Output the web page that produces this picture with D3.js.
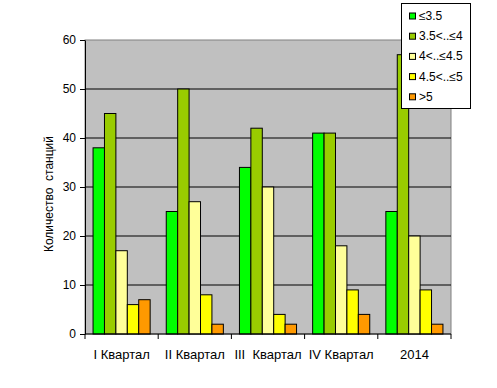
<!doctype html>
<html lang="ru">
<head>
<meta charset="utf-8">
<title>Количество станций</title>
<script src="https://cdnjs.cloudflare.com/ajax/libs/d3/7.8.5/d3.min.js"></script>
<style>
  body { margin: 0; background: #fff; }
  text { font-family: "Liberation Sans", Arial, sans-serif; fill: #000; }
</style>
</head>
<body>
<div id="chart"></div>
<script>
// categories and series
var quarters = ["I Квартал", "II Квартал", "III  Квартал", "IV Квартал", "2014"];
var seriesNames = ["≤3.5", "3.5<..≤4", "4<..≤4.5", "4.5<..≤5", ">5"];
var seriesColors = ["#00ff00", "#99cc00", "#ffff99", "#ffff00", "#ff9900"];
var s1 = [38, 25, 34, 41, 25];
var s2 = [45, 50, 42, 41, 57];
var s3 = [17, 27, 30, 18, 20];
var s4 = [6, 8, 4, 9, 9];
var s5 = [7, 2, 2, 4, 2];
var yTicks = [0, 10, 20, 30, 40, 50, 60];

var series = [s1, s2, s3, s4, s5];

var W = 497, H = 388;
var plotL = 85, plotR = 451, plotT = 40, plotB = 334;

var svg = d3.select("#chart").append("svg")
    .attr("width", W)
    .attr("height", H);

var x0 = d3.scaleBand()
  .domain(quarters)
  .range([plotL, plotR])
  .paddingInner(0.22)
  .paddingOuter(0.11);

var x1 = d3.scaleBand()
  .domain(d3.range(series.length))
  .range([0, x0.bandwidth()]);

var y = d3.scaleLinear()
  .domain([0, 60])
  .range([plotB, plotT]);

// plot area
svg.append("rect")
  .attr("x", plotL).attr("y", plotT)
  .attr("width", plotR - plotL).attr("height", plotB - plotT)
  .attr("fill", "#c0c0c0")
  .attr("stroke", "#808080");

// gridlines
svg.selectAll(".grid")
  .data(yTicks.filter(function(d) { return d > 0 && d < 60; }))
  .enter().append("line")
    .attr("x1", plotL).attr("x2", plotR)
    .attr("y1", function(d) { return y(d); })
    .attr("y2", function(d) { return y(d); })
    .attr("stroke", "#000");

// bars
quarters.forEach(function(q, qi) {
  series.forEach(function(s, si) {
    svg.append("rect")
      .attr("x", x0(q) + x1(si))
      .attr("y", y(s[qi]))
      .attr("width", x1.bandwidth())
      .attr("height", plotB - y(s[qi]))
      .attr("fill", seriesColors[si])
      .attr("stroke", "#000")
      .attr("stroke-width", 1);
  });
});

// Y axis
var yAxis = svg.append("g")
  .attr("transform", "translate(" + plotL + ",0)")
  .call(d3.axisLeft(y).tickValues(yTicks).tickSize(5).tickPadding(4).tickSizeOuter(0));
yAxis.selectAll("text").style("font-size", "12px").style("font-family", "Liberation Sans, Arial, sans-serif").attr("fill", "#000");
yAxis.selectAll("line, path").attr("stroke", "#000");

// X axis with separators at group boundaries
svg.append("line")
  .attr("x1", plotL).attr("x2", plotR)
  .attr("y1", plotB).attr("y2", plotB)
  .attr("stroke", "#000");
var step = x0.step();
svg.selectAll(".xtick")
  .data(d3.range(quarters.length + 1))
  .enter().append("line")
    .attr("x1", function(i) { return plotL + i * step; })
    .attr("x2", function(i) { return plotL + i * step; })
    .attr("y1", plotB).attr("y2", plotB + 5)
    .attr("stroke", "#000");
svg.selectAll(".xlab")
  .data(quarters)
  .enter().append("text")
    .attr("x", function(d) { return x0(d) + x0.bandwidth() / 2; })
    .attr("y", 359)
    .attr("text-anchor", "middle")
    .style("font-size", "13px")
    .style("white-space", "pre")
    .text(function(d) { return d; });

// Y label
svg.append("text")
  .attr("transform", "translate(53,194) rotate(-90)")
  .attr("text-anchor", "middle")
  .style("font-size", "12px")
  .style("white-space", "pre")
  .text("Количество  станций");

// legend
var lg = svg.append("g");
lg.append("rect")
  .attr("x", 401.5).attr("y", 3.5)
  .attr("width", 69).attr("height", 105)
  .attr("fill", "#fff")
  .attr("stroke", "#000");
seriesNames.forEach(function(name, i) {
  var cy = 16 + i * 20.2;
  lg.append("rect")
    .attr("x", 409.5).attr("y", cy - 3)
    .attr("width", 6).attr("height", 6)
    .attr("fill", seriesColors[i])
    .attr("stroke", "#000");
  lg.append("text")
    .attr("x", 419).attr("y", cy + 4)
    .style("font-size", "12px")
    .text(name);
});
</script>
</body>
</html>
